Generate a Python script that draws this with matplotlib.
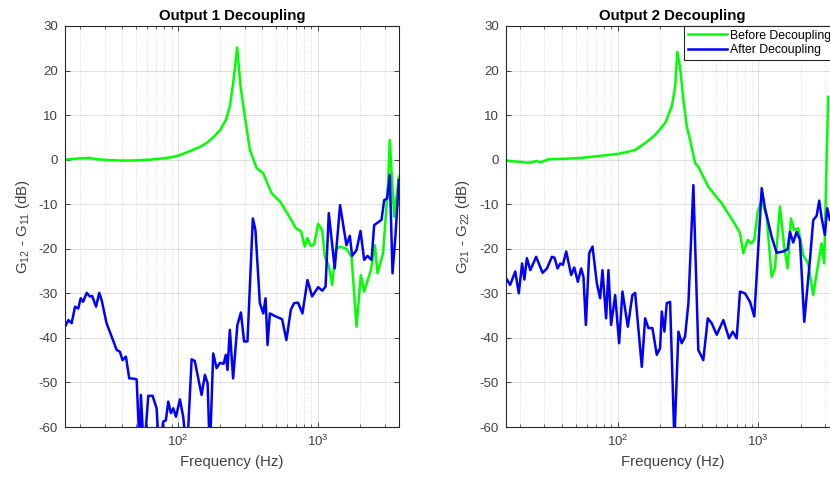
import numpy as np
import matplotlib.pyplot as plt
from matplotlib.ticker import LogLocator, NullFormatter, MultipleLocator

plt.rcParams['font.family'] = ['Liberation Sans', 'DejaVu Sans']
plt.rcParams['mathtext.default'] = 'regular'
plt.rcParams['axes.unicode_minus'] = False

# Output 1: G12 - G11 (dB) before / after decoupling
freq_1_before = [15.6, 17, 20, 23.5, 26, 29, 33, 39, 46, 54, 63, 74, 88, 100, 122, 144, 160, 180,
                 200, 220, 235, 250, 265, 280, 301, 327, 365, 406, 467, 540, 631, 700, 757, 807,
                 843, 891, 941, 1005, 1074, 1122, 1200, 1265, 1340, 1436, 1600, 1742, 1889, 2027,
                 2142, 2393, 2554, 2669, 2925, 3177, 3266, 3507, 3793]
db_1_before = [0, 0.1, 0.3, 0.4, 0.1, 0, -0.1, -0.2, -0.2, -0.1, 0, 0.2, 0.5, 0.9, 1.9, 2.9, 3.7, 5.1,
               6.6, 8.9, 11.9, 17.9, 25.2, 16.5, 9.6, 2.2, -1.9, -3.0, -7.5, -9.5, -13, -15.5, -16,
               -19.5, -17.6, -19.4, -19, -14.4, -15.8, -21.8, -24, -28.1, -20.3, -19.5, -20, -21.8,
               -37.5, -25.9, -29.6, -24.8, -19.2, -25.5, -21, -5.3, 4.4, -12.8, -3.8]

freq_1_after = [15.6, 16.5, 17.4, 18.4, 19.4, 20.2, 21, 22.3, 23.5, 24.4, 26, 27.4, 28.5, 30.9, 33.6,
                36.5, 38.5, 40.2, 42.5, 44.9, 47, 50.7, 53.5, 54.4, 57.2, 61.4, 65.9, 70.4, 73.5,
                78.5, 82, 85.3, 89.1, 92.6, 96.8, 103.3, 109.1, 116, 125.3, 132, 147.6, 155.9, 163,
                169, 178.7, 189, 199.5, 212, 220, 226, 235, 248, 266, 282, 297, 314, 343, 358, 385,
                407, 423, 437, 454, 493, 555, 596, 641, 676, 722, 776, 843, 909, 1005, 1074, 1135,
                1197, 1320, 1441, 1600, 1692, 1757, 1889, 2018, 2142, 2264, 2420, 2525, 2850, 2978,
                3126, 3266, 3415, 3587, 3793]
db_1_after = [-37.5, -36, -36.7, -33, -33.4, -31.1, -31.9, -29.9, -30.7, -30.6, -33, -29.9, -31.5,
              -36.7, -39.7, -42.7, -43.1, -45, -44.2, -49.1, -49.1, -49.3, -66, -52.8, -66, -53, -53,
              -55.8, -66, -58.8, -58.5, -54.3, -56.9, -55.8, -57.7, -53.8, -57.7, -66, -44.8, -45.2,
              -52.8, -48.3, -50.2, -66, -43.5, -46.8, -45.6, -45.8, -43.8, -47.2, -38.2, -49.1,
              -37.1, -34.3, -40.8, -40.8, -13.2, -15.8, -32.2, -34.5, -31.1, -41.6, -34.5, -35.1,
              -35.8, -40.5, -33.7, -32.2, -32.1, -34.5, -27, -30.7, -28.6, -29.4, -28.5, -12, -24.4,
              -10.2, -19.2, -17.1, -21.6, -20.3, -16, -22.5, -21.6, -22.5, -14.7, -13.5, -9.1, -8.7,
              -3.4, -25.5, -16.9, -4.6]

# Output 2: G21 - G22 (dB) before / after decoupling
freq_2_before = [16, 18.6, 23.1, 26.5, 28.1, 32.1, 42.1, 55.4, 76.9, 100.4, 119, 133, 156, 184, 217,
                 242, 256, 265, 277, 293, 310, 327, 355, 374, 441, 549, 702, 741, 782, 841, 888,
                 937, 990, 1058, 1147, 1245, 1314, 1427, 1530, 1618, 1709, 1804, 1925, 2088, 2268,
                 2461, 2603, 2823, 2946, 3145]
db_2_before = [-0.2, -0.4, -0.7, -0.3, -0.6, 0.1, 0.2, 0.4, 0.9, 1.3, 1.8, 2.2, 3.7, 5.5, 8.2, 11.9,
               16.4, 24.2, 20.9, 13.4, 7.4, 4.4, -0.8, -1.6, -6.1, -9.8, -15.1, -16.5, -21, -18,
               -18.8, -18, -11.7, -9, -12.8, -26.3, -24.4, -10.5, -19.5, -24.4, -13.2, -15.8, -15.4,
               -21.4, -23.3, -30.4, -25.5, -18.8, -23.3, 14.1]

freq_2_after = [16, 17.1, 18.6, 19.7, 20.8, 21.6, 22.5, 23.8, 26.2, 29.1, 31.3, 33.9, 35.4, 37.2,
                38.9, 40.6, 42.9, 46.5, 48.9, 51.9, 54.8, 56.9, 59.2, 62.5, 66, 70.9, 74.8, 77.7,
                82.5, 85.7, 89.5, 95.7, 102.1, 107.8, 117.8, 126.9, 132.8, 148.1, 156.4, 165.1,
                176.3, 189.3, 199.9, 205.6, 214.5, 223.1, 235.5, 252.7, 270, 285, 301, 318, 345,
                374, 406, 437, 466, 506, 564, 619, 658, 702, 741, 804, 873, 937, 1058, 1116, 1245,
                1351, 1507, 1618, 1680, 1774, 1875, 1980, 2125, 2333, 2461, 2603, 2716, 2823, 2980,
                3097, 3235]
db_2_after = [-26.6, -28.1, -25.1, -30, -23.3, -26.9, -22.1, -24.8, -21.8, -25.4, -24.4, -21.8, -22,
              -24.4, -23.3, -23.6, -20.6, -25.9, -24.2, -27.4, -24.4, -26.3, -37.1, -21, -19.5,
              -27.8, -31.1, -24.8, -35.6, -24.8, -37.1, -30.4, -41.2, -29.6, -37.5, -30.4, -29.9,
              -46.5, -35.6, -37.8, -37.8, -43.8, -42.3, -34.1, -38.6, -32.2, -31.9, -63, -38.6,
              -41.2, -39.7, -32.2, -5.7, -42.7, -45, -35.6, -36.7, -39.3, -36, -40.1, -38.6, -40.1,
              -29.6, -30, -31.9, -35.2, -6.4, -10.9, -17.3, -20.9, -20.6, -20.1, -16.2, -18.6,
              -16.2, -18, -36.4, -22.5, -13.6, -12.6, -9.2, -13, -16.9, -10.9, -13.5]

GREEN = '#00ff00'
BLUE = '#0000ff'
DARK = '#262626'

fig = plt.figure(figsize=(8.3, 4.8), dpi=100)
W, H = 830.0, 480.0
ax1 = fig.add_axes([65 / W, 53 / H, 334 / W, 401 / H])
ax2 = fig.add_axes([505.7 / W, 53 / H, 334 / W, 401 / H])  # runs past the right edge


def style_axes(ax, title, ylabel, xmin):
    ax.set_xscale('log')
    ax.set_xlim(xmin, 3800)
    ax.set_ylim(-60, 30)
    ax.yaxis.set_major_locator(MultipleLocator(10))
    ax.xaxis.set_major_locator(LogLocator(base=10))
    ax.xaxis.set_minor_locator(LogLocator(base=10, subs=np.arange(2, 10)))
    ax.xaxis.set_minor_formatter(NullFormatter())
    ax.grid(True, which='major', color=DARK, alpha=0.15, lw=0.7)
    ax.grid(True, which='minor', axis='x', color=DARK, alpha=0.2, lw=0.6, ls=':')
    ax.set_axisbelow(True)
    ax.tick_params(which='both', direction='in', top=True, right=True,
                   colors=DARK, labelcolor='#404040', labelsize=9.5, pad=5)
    ax.tick_params(which='major', length=3.5, width=0.6)
    ax.tick_params(which='minor', length=2, width=0.5)
    for sp in ax.spines.values():
        sp.set_color(DARK)
        sp.set_linewidth(0.8)
    ax.set_title(title, fontsize=10.8, fontweight='bold', color='black', pad=4)
    ax.set_xlabel('Frequency (Hz)', fontsize=10.8, color='#404040', labelpad=4)
    ax.set_ylabel(ylabel, fontsize=10.8, color='#404040', labelpad=5)


ax1.plot(freq_1_before, db_1_before, color=GREEN, lw=1.8, label='Before Decoupling')
ax1.plot(freq_1_after, db_1_after, color=BLUE, lw=1.8, label='After Decoupling')
style_axes(ax1, 'Output 1 Decoupling', 'G$_{12}$ - G$_{11}$ (dB)', 15.6)

ax2.plot(freq_2_before, db_2_before, color=GREEN, lw=1.8, label='Before Decoupling')
ax2.plot(freq_2_after, db_2_after, color=BLUE, lw=1.8, label='After Decoupling')
style_axes(ax2, 'Output 2 Decoupling', 'G$_{21}$ - G$_{22}$ (dB)', 15.9)

leg = ax2.legend(loc='upper left', bbox_to_anchor=(684 / W, 454 / H),
                 bbox_transform=fig.transFigure, borderaxespad=0, fontsize=8.8,
                 handlelength=3.2, handletextpad=0.3, labelspacing=0.2, borderpad=0.3,
                 fancybox=False, framealpha=1, edgecolor=DARK)
leg.get_frame().set_linewidth(0.8)

fig.savefig('out.png', dpi=100)
